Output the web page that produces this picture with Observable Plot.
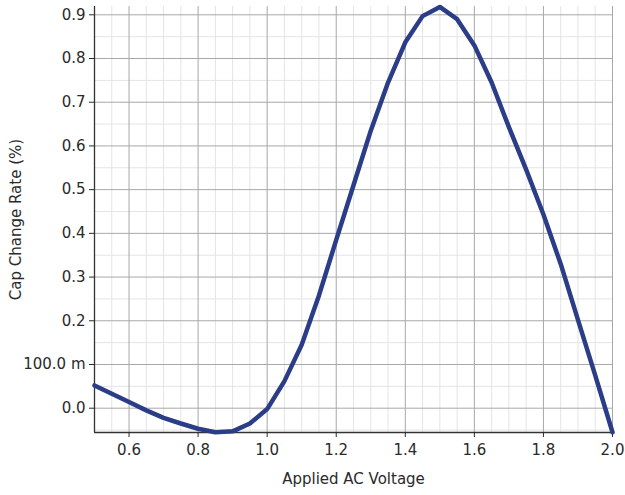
<!DOCTYPE html>
<html>
<head>
<meta charset="utf-8">
<script src="https://cdn.jsdelivr.net/npm/d3@7"></script>
<script src="https://cdn.jsdelivr.net/npm/@observablehq/plot@0.6"></script>
<style>
  html, body { margin: 0; padding: 0; background: #fff; }
  #chart svg { display: block; }
</style>
</head>
<body>
<div id="chart"></div>
<script>
const voltage = [0.5, 0.55, 0.6, 0.65, 0.7, 0.75, 0.8, 0.85, 0.9, 0.95, 1.0, 1.05, 1.1, 1.15, 1.2, 1.25, 1.3, 1.35, 1.4, 1.45, 1.5, 1.55, 1.6, 1.65, 1.7, 1.75, 1.8, 1.85, 1.9, 1.95, 2.0];
const capChange = [0.052, 0.033, 0.014, -0.005, -0.022, -0.035, -0.047, -0.055, -0.053, -0.035, -0.002, 0.062, 0.145, 0.258, 0.385, 0.51, 0.635, 0.745, 0.837, 0.897, 0.918, 0.89, 0.83, 0.745, 0.643, 0.546, 0.443, 0.33, 0.202, 0.075, -0.055];

const xDomain = [0.5, 2.0];
const yDomain = [-0.0556, 0.919];
const xTicks = [0.6, 0.8, 1.0, 1.2, 1.4, 1.6, 1.8, 2.0];
const xTickLabels = ["0.6", "0.8", "1.0", "1.2", "1.4", "1.6", "1.8", "2.0"];
const yTicks = [0.0, 0.1, 0.2, 0.3, 0.4, 0.5, 0.6, 0.7, 0.8, 0.9];
const yTickLabels = ["0.0", "100.0 m", "0.2", "0.3", "0.4", "0.5", "0.6", "0.7", "0.8", "0.9"];
const xMinor = [0.55, 0.65, 0.7, 0.75, 0.85, 0.9, 0.95, 1.05, 1.1, 1.15, 1.25, 1.3, 1.35, 1.45, 1.5, 1.55, 1.65, 1.7, 1.75, 1.85, 1.9, 1.95];
const yMinor = [-0.05, 0.05, 0.15, 0.25, 0.35, 0.45, 0.55, 0.65, 0.75, 0.85];

const xLabel = "Applied AC Voltage";
const yLabel = "Cap Change Rate (%)";

const data = voltage.map((v, i) => ({voltage: v, cap: capChange[i]}));

const fmtX = d => xTickLabels[xTicks.findIndex(t => Math.abs(t - d) < 1e-9)];
const fmtY = d => yTickLabels[yTicks.findIndex(t => Math.abs(t - d) < 1e-9)];

const chart = Plot.plot({
  width: 625,
  height: 495,
  marginTop: 6,
  marginBottom: 63,
  marginLeft: 94,
  marginRight: 13,
  style: {fontFamily: "DejaVu Sans", fontSize: "15px", color: "#2a2a2a", background: "#fff"},
  x: {domain: xDomain},
  y: {domain: yDomain},
  marks: [
    Plot.ruleX(xMinor, {stroke: "#e4e4e4", strokeWidth: 1}),
    Plot.ruleY(yMinor, {stroke: "#e4e4e4", strokeWidth: 1}),
    Plot.ruleX(xTicks, {stroke: "#a8a8a8", strokeWidth: 1}),
    Plot.ruleY(yTicks, {stroke: "#a8a8a8", strokeWidth: 1}),
    Plot.ruleX([xDomain[0]], {stroke: "#333", strokeWidth: 1.3}),
    Plot.ruleY([yDomain[0]], {stroke: "#333", strokeWidth: 1.3}),
    Plot.axisX({ticks: xTicks, tickFormat: fmtX, tickSize: 5, tickPadding: 7, label: xLabel, labelAnchor: "center", labelArrow: "none", labelOffset: 51, fontSize: 15}),
    Plot.axisY({ticks: yTicks, tickFormat: fmtY, tickSize: 5, tickPadding: 4, label: yLabel, labelAnchor: "center", labelArrow: "none", labelOffset: 84, fontSize: 15}),
    Plot.line(data, {x: "voltage", y: "cap", stroke: "#2b3d86", strokeWidth: 4.5, strokeLinejoin: "round", strokeLinecap: "round"})
  ]
});
document.getElementById("chart").appendChild(chart);
</script>
</body>
</html>
